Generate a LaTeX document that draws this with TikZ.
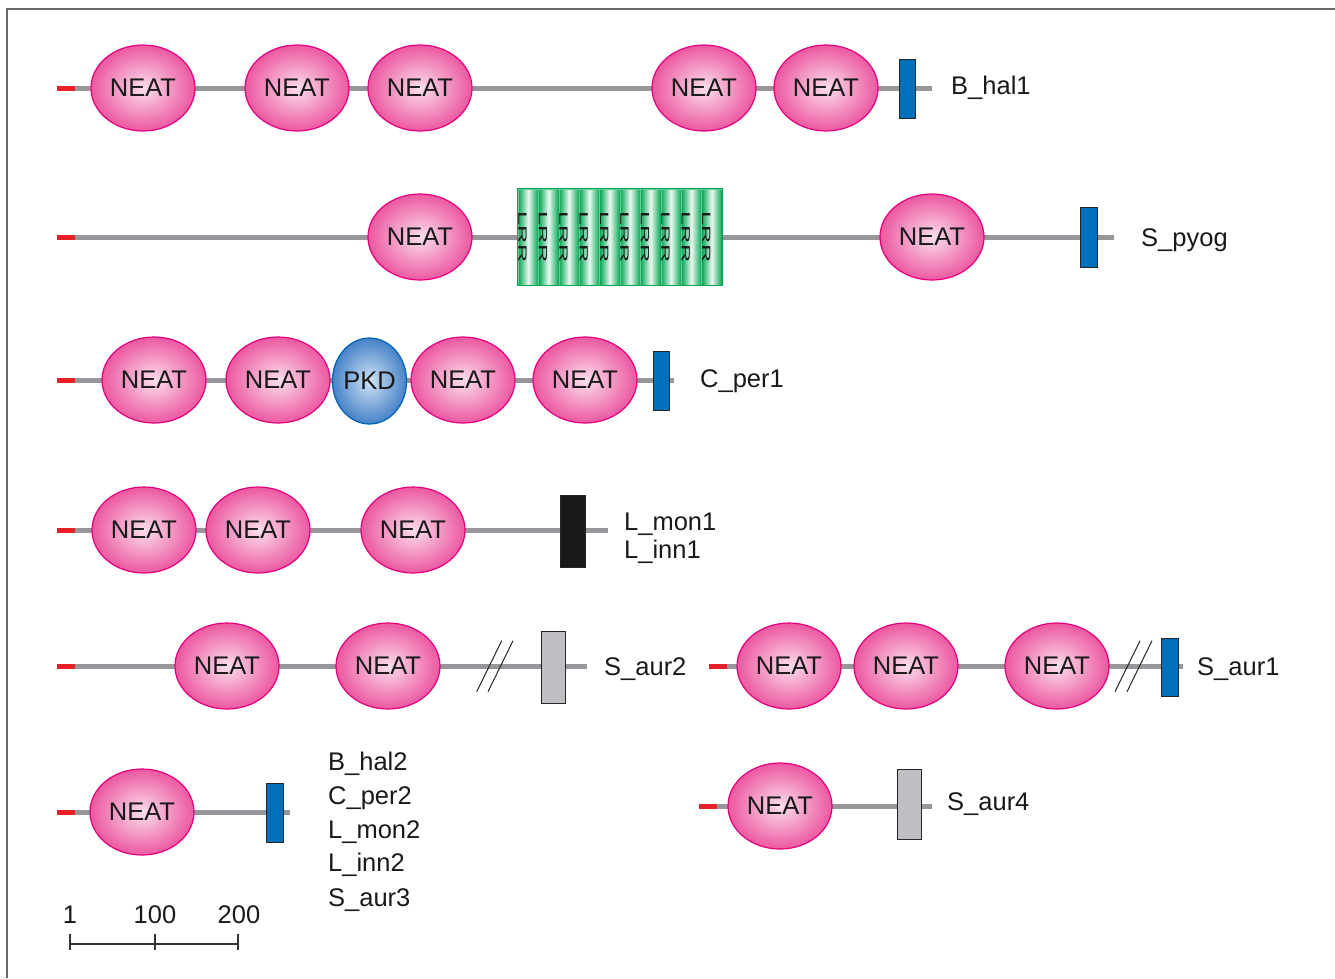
\documentclass[tikz,border=0pt]{standalone}
\usepackage{fontspec}
\setmainfont{Liberation Sans}
\usetikzlibrary{shapes.geometric}

\definecolor{neatpink}{RGB}{236,88,160}
\definecolor{neatlight}{RGB}{251,222,236}
\definecolor{neatrim}{RGB}{228,0,126}
\definecolor{pkdblue}{RGB}{70,130,200}
\definecolor{pkdlight}{RGB}{208,226,244}
\definecolor{pkdrim}{RGB}{0,100,180}
\definecolor{tmblue}{RGB}{0,112,186}
\definecolor{backbone}{RGB}{150,150,155}
\definecolor{sigred}{RGB}{232,32,40}
\definecolor{lrrgreen}{RGB}{0,166,81}
\definecolor{anchgray}{RGB}{190,191,195}
\definecolor{framegray}{RGB}{105,105,105}

\tikzset{
  neat/.style={ellipse, draw=neatrim, line width=1.2pt, inner color=neatlight,
    outer color=neatpink, minimum width=104pt, minimum height=86pt, inner sep=0pt,
    font=\fontsize{25.5}{30}\selectfont, text=black!90},
  pkd/.style={neat, draw=pkdrim, inner color=pkdlight, outer color=pkdblue,
    minimum width=67pt},
  tm/.style={rectangle, draw=black!85, line width=1pt, fill=tmblue, inner sep=0pt},
  anch/.style={tm, fill=anchgray},
  spine/.style={backbone, line width=5pt},
  signal/.style={sigred, line width=5pt},
  lbl/.style={anchor=base west, inner sep=0pt, font=\fontsize{25.5}{30}\selectfont,
    text=black!90},
  lrr/.style={rectangle, minimum width=20.4pt, minimum height=96pt, inner sep=0pt,
    left color=lrrgreen, right color=lrrgreen, middle color=white!92!lrrgreen,
    draw=lrrgreen!60, line width=0.5pt},
  lrrtxt/.style={inner sep=0pt, font=\fontsize{12}{13}\selectfont, text=black!90},
  brk/.style={black!85, line width=1pt},
}

\begin{document}
\begin{tikzpicture}[x=1pt,y=-1pt]
  \useasboundingbox (0,0) rectangle (1335,978);
  \draw [framegray, line width=1.5pt] (7,978) -- (7,9) -- (1335,9);

  % B_hal1
  \coordinate (s1) at (57,88);
  \coordinate (a1) at (75,88);
  \coordinate (b1) at (932,88);
  \draw [spine] (a1) -- (b1);
  \draw [signal] (s1) -- (a1);
  \node [neat] (n11) at (143,88) {NEAT};
  \node [neat] (n12) at (297,88) {NEAT};
  \node [neat] (n13) at (420,88) {NEAT};
  \node [neat] (n14) at (704,88) {NEAT};
  \node [neat] (n15) at (826,88) {NEAT};
  \node [tm, minimum width=16pt, minimum height=59pt] (t1) at (907,88.5) {};
  \node [lbl] (l1) at (951,94) {B\_hal1};

  % S_pyog
  \coordinate (s2) at (57,237);
  \coordinate (a2) at (75,237);
  \coordinate (b2) at (1114,237);
  \draw [spine] (a2) -- (b2);
  \draw [signal] (s2) -- (a2);
  \node [neat] (n21) at (420,237) {NEAT};
  \foreach \i in {0,...,9} {
    \node [lrr] (r\i) at ({528.2+20.4*\i},237) {};
    \node [lrrtxt, anchor=west] (rt\i) at ([xshift=0.5pt]r\i.west)
      {\rotatebox{-90}{\scalebox{2.1}[1]{LRR}}};
  }
  \draw [lrrgreen, line width=1pt] (r0.north west) rectangle (r9.south east);
  \node [neat] (n22) at (932,237) {NEAT};
  \node [tm, minimum width=17pt, minimum height=60pt] (t2) at (1088.5,237) {};
  \node [lbl] (l2) at (1141,246) {S\_pyog};

  % C_per1
  \coordinate (s3) at (57,380);
  \coordinate (a3) at (75,380);
  \coordinate (b3) at (674,380);
  \draw [spine] (a3) -- (b3);
  \draw [signal] (s3) -- (a3);
  \node [neat] (n31) at (154,380) {NEAT};
  \node [neat] (n32) at (278,380) {NEAT};
  \node [pkd] (p3) at (369.5,381) {PKD};
  \node [neat] (n33) at (463,380) {NEAT};
  \node [neat] (n34) at (585,380) {NEAT};
  \node [tm, minimum width=16pt, minimum height=59pt] (t3) at (661,380.5) {};
  \node [lbl] (l3) at (700,387) {C\_per1};

  % L_mon1, L_inn1
  \coordinate (s4) at (57,530);
  \coordinate (a4) at (75,530);
  \coordinate (b4) at (608,530);
  \draw [spine] (a4) -- (b4);
  \draw [signal] (s4) -- (a4);
  \node [neat] (n41) at (144,530) {NEAT};
  \node [neat] (n42) at (258,530) {NEAT};
  \node [neat] (n43) at (413,530) {NEAT};
  \node [tm, fill=black!90, minimum width=25pt, minimum height=72pt] (t4) at (572.5,531) {};
  \node [lbl] (l4a) at (624,530) {L\_mon1};
  \node [lbl] (l4b) at (624,558) {L\_inn1};

  % S_aur2
  \coordinate (s5) at (57,666);
  \coordinate (a5) at (75,666);
  \coordinate (b5) at (587,666);
  \draw [spine] (a5) -- (b5);
  \draw [signal] (s5) -- (a5);
  \node [neat] (n51) at (227,666) {NEAT};
  \node [neat] (n52) at (388,666) {NEAT};
  \draw [brk] (501.7,640.7) -- (476.7,691.7);
  \draw [brk] (513,640.7) -- (488,691.7);
  \node [anch, minimum width=24pt, minimum height=72pt] (t5) at (553,667) {};
  \node [lbl] (l5) at (604,675) {S\_aur2};

  % S_aur1
  \coordinate (s6) at (709,666);
  \coordinate (a6) at (727,666);
  \coordinate (b6) at (1183,666);
  \draw [spine] (a6) -- (b6);
  \draw [signal] (s6) -- (a6);
  \node [neat] (n61) at (789,666) {NEAT};
  \node [neat] (n62) at (906,666) {NEAT};
  \node [neat] (n63) at (1057,666) {NEAT};
  \draw [brk] (1140,640.7) -- (1115,691.7);
  \draw [brk] (1152,640.7) -- (1127,691.7);
  \node [tm, minimum width=17pt, minimum height=58pt] (t6) at (1169.5,667) {};
  \node [lbl] (l6) at (1197,675) {S\_aur1};

  % B_hal2 ... S_aur3
  \coordinate (s7) at (57,812);
  \coordinate (a7) at (75,812);
  \coordinate (b7) at (290,812);
  \draw [spine] (a7) -- (b7);
  \draw [signal] (s7) -- (a7);
  \node [neat] (n71) at (142,812) {NEAT};
  \node [tm, minimum width=17pt, minimum height=59pt] (t7) at (274.5,812.5) {};
  \node [lbl] (l7a) at (328,770) {B\_hal2};
  \node [lbl] (l7b) at (328,804) {C\_per2};
  \node [lbl] (l7c) at (328,838) {L\_mon2};
  \node [lbl] (l7d) at (328,871) {L\_inn2};
  \node [lbl] (l7e) at (328,906) {S\_aur3};

  % S_aur4
  \coordinate (s8) at (699,806);
  \coordinate (a8) at (717,806);
  \coordinate (b8) at (932,806);
  \draw [spine] (a8) -- (b8);
  \draw [signal] (s8) -- (a8);
  \node [neat] (n81) at (780,806) {NEAT};
  \node [anch, minimum width=24pt, minimum height=70pt] (t8) at (909,804) {};
  \node [lbl] (l8) at (947,810) {S\_aur4};

  % scale bar
  \draw [black!80, line width=1.2pt] (70,944) -- (238,944);
  \draw [black!80, line width=1.2pt] (70,934) -- (70,950);
  \draw [black!80, line width=1.2pt] (155,934) -- (155,950);
  \draw [black!80, line width=1.2pt] (238,934) -- (238,950);
  \node [lbl, anchor=base] (k1) at (70,923) {1};
  \node [lbl, anchor=base] (k2) at (155,923) {100};
  \node [lbl, anchor=base] (k3) at (239,923) {200};
\end{tikzpicture}
\end{document}
